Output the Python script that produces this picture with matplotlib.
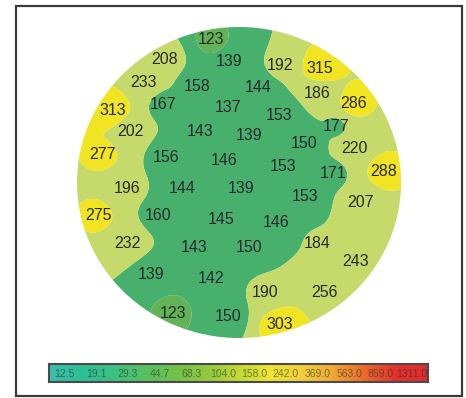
"""
晶圆厚度分布图 (contour map + colour scale)
"""

import numpy as np
import matplotlib
matplotlib.use("Agg")
import matplotlib.pyplot as plt
from matplotlib.colors import LinearSegmentedColormap
from matplotlib.patches import Circle, Rectangle

plt.rcParams['font.family'] = ['Liberation Sans', 'DejaVu Sans']

# measured values and their positions on the unit disc
values = [123, 208, 139, 192, 315, 233, 158, 144, 186, 286,
          313, 167, 137, 153, 177, 202, 143, 139, 150, 220,
          277, 156, 146, 153, 171, 288, 196, 144, 139, 153,
          207, 275, 160, 145, 146, 232, 143, 150, 184, 243,
          139, 142, 190, 256, 123, 150, 303]
pos_x = [-0.17, -0.46, -0.06, 0.25, 0.50, -0.59, -0.26, 0.12, 0.48, 0.71,
         -0.78, -0.47, -0.07, 0.25, 0.60, -0.67, -0.24, 0.06, 0.40, 0.71,
         -0.84, -0.45, -0.09, 0.27, 0.58, 0.89, -0.69, -0.35, 0.01, 0.41,
         0.75, -0.87, -0.50, -0.11, 0.23, -0.69, -0.28, 0.06, 0.48, 0.72,
         -0.54, -0.17, 0.16, 0.53, -0.41, -0.07, 0.25]
pos_y = [0.92, 0.79, 0.78, 0.75, 0.73, 0.64, 0.62, 0.61, 0.57, 0.51,
         0.46, 0.50, 0.48, 0.43, 0.36, 0.33, 0.33, 0.30, 0.25, 0.22,
         0.18, 0.16, 0.14, 0.10, 0.06, 0.07, -0.04, -0.04, -0.04, -0.09,
         -0.13, -0.21, -0.21, -0.24, -0.26, -0.39, -0.42, -0.42, -0.39, -0.51,
         -0.59, -0.62, -0.71, -0.71, -0.84, -0.86, -0.91]

# colour scale labels
scale_labels = ['12.5', '19.1', '29.3', '44.7', '68.3', '104.0',
                '158.0', '242.0', '369.0', '563.0', '859.0', '1311.0']
scale_colors = ['#3dbcae', '#2ebf96', '#3cc084', '#58c062', '#70c24a',
                '#94c93c', '#c2d936', '#eee534', '#f3cf3e', '#f1a834',
                '#ec6a2c', '#e5302e', '#e22a2a']

# map levels / colours
levels = [0, 131, 182, 262, 400]
map_colors = ['#62b258', '#48b06d', '#c6da6c', '#f1e423']

fig = plt.figure(figsize=(4.66, 3.98), dpi=100)

# 外框
fig.patches.append(Rectangle((16 / 466, 2 / 398), 446 / 466, 390 / 398,
                             transform=fig.transFigure, fill=False,
                             edgecolor='#3a3a3a', linewidth=1.6))

# 分布图
ax = fig.add_axes([77 / 466, 60 / 398, 324 / 466, 311 / 398])
ax.set_xlim(-1, 1)
ax.set_ylim(-1, 1)
ax.axis('off')

px = np.array(pos_x)
py = np.array(pos_y)
pv = np.array(values, dtype=float)
gx, gy = np.meshgrid(np.linspace(-1.02, 1.02, 400), np.linspace(-1.02, 1.02, 400))
d2 = (gx[..., None] - px) ** 2 + (gy[..., None] - py) ** 2
w = 1.0 / np.maximum(d2, 1e-6) ** 1.6
field = (w * pv).sum(-1) / w.sum(-1)

disc = Circle((0, 0), 1.0, transform=ax.transData)
cs = ax.contourf(gx, gy, field, levels=levels, colors=map_colors, antialiased=True)
cs.set_clip_path(disc)

for v, x, y in zip(values, pos_x, pos_y):
    ax.text(x, y, str(v), ha='center', va='center', fontsize=11.5, color='#2b2b2b')

# 色标
cax = fig.add_axes([49 / 466, 16 / 398, 379 / 466, 18 / 398])
cmap = LinearSegmentedColormap.from_list('scale', scale_colors)
cax.imshow(np.linspace(0, 1, 256)[None, :], cmap=cmap, aspect='auto',
           extent=(0, len(scale_labels), 0, 1))
cax.set_xticks([])
cax.set_yticks([])
for s in cax.spines.values():
    s.set_edgecolor('#4a4a4a')
    s.set_linewidth(1.5)
for i, lab in enumerate(scale_labels):
    cax.text(i + 0.5, 0.45, lab, ha='center', va='center', fontsize=7.5,
             color='#1d3b30', alpha=0.6)

fig.savefig('out.png', dpi=100)
